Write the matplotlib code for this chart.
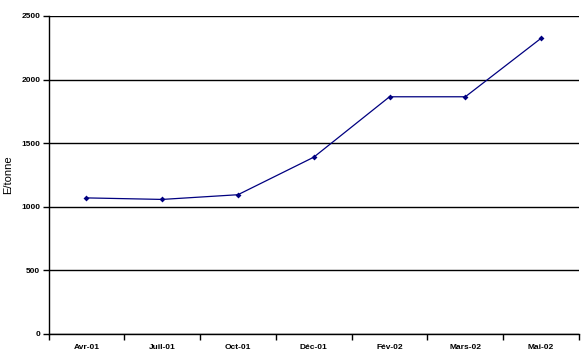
import numpy as np
import matplotlib
matplotlib.use("Agg")
import matplotlib.pyplot as plt

matplotlib.rcParams['font.family'] = 'Liberation Sans'

mois = ["Avr-01", "Juil-01", "Oct-01", "Déc-01", "Fév-02", "Mars-02", "Mai-02"]
prix = [1070, 1058, 1095, 1390, 1865, 1865, 2325]
yticks = [0, 500, 1000, 1500, 2000, 2500]

W, H = 588, 361
fig = plt.figure(figsize=(W/100, H/100), dpi=100)
ax = fig.add_axes([48.5/W, 1 - 334/H, (579 - 48.5)/W, (334 - 16)/H])

x = np.arange(len(mois))
ax.plot(x, prix, '-', color='#000080', linewidth=0.9,
        marker='D', markersize=3, markerfacecolor='#000080', markeredgewidth=0)

ax.set_xlim(-0.5, len(mois) - 0.5)
ax.set_ylim(0, 2500)
ax.set_yticks(yticks)
ax.set_yticklabels([str(v) for v in yticks], fontsize=6, fontweight='bold')
ax.yaxis.grid(True, color='black', linewidth=1)
ax.set_axisbelow(True)

# category ticks between labels, labels centred
ax.set_xticks(np.arange(-0.5, len(mois), 1.0))
ax.set_xticklabels([])
ax.set_xticks(x, minor=True)
ax.set_xticklabels(mois, minor=True, fontsize=6, fontweight='bold')
ax.tick_params(axis='x', which='minor', length=0, pad=7)
ax.tick_params(axis='x', which='major', length=4, width=1, direction='out')
ax.tick_params(axis='y', length=4, width=1, direction='out', pad=2)

for s in ['top', 'right']:
    ax.spines[s].set_visible(False)
for s in ['left', 'bottom']:
    ax.spines[s].set_linewidth(1)

ax.set_ylabel("E/tonne", fontsize=8, labelpad=6)

plt.savefig("out.png", dpi=100)
